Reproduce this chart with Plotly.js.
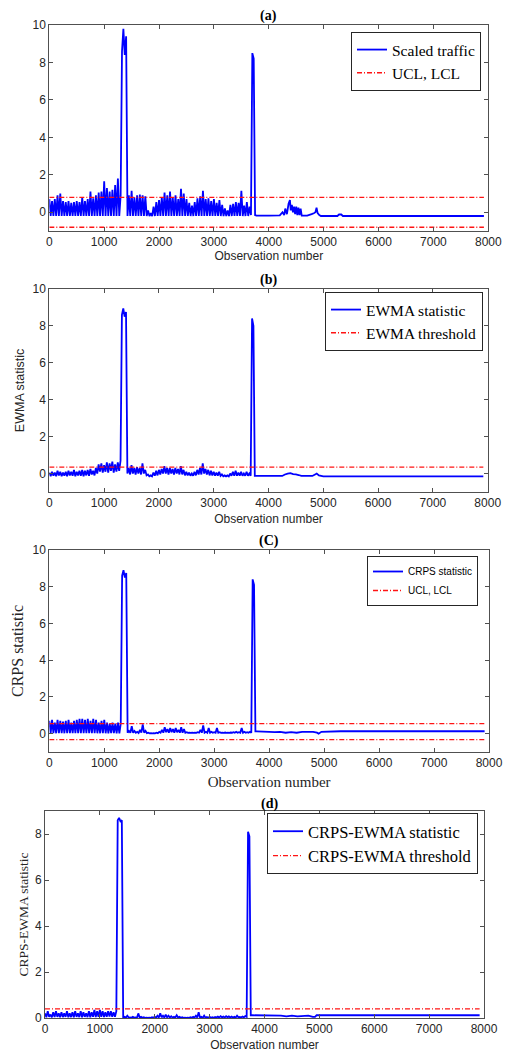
<!DOCTYPE html>
<html>
<head>
<meta charset="utf-8">
<script src="https://cdn.plot.ly/plotly-3.0.1.min.js"></script>
<style>html,body{margin:0;padding:0;background:#fff;}#chart{width:508px;height:1055px;}</style>
</head>
<body>
<div id="chart"></div>
<script>
// ---- Data (observation grid: 25 obs per entry, 0..3750) ----
// High values at obs 0,50,...,3750 ; low values at obs 25,75,...,3725
const aHigh = [0.7,0.6,0.7,0.9,1.0,0.6,0.55,0.6,0.5,0.55,
  0.6,0.55,0.8,0.6,0.7,1.1,0.75,0.9,1.05,1.1,
  1.65,1.3,1.1,1.2,1.45,1.8,0.9,9.8,9.4,0.9,
  1.15,0.8,0.9,0.95,0.9,0.85,0.1,-0.05,0.3,0.55,
  0.65,0.8,1.05,0.9,1.1,0.8,0.9,0.7,1.25,1.0,
  0.7,0.5,0.35,0.55,0.75,0.85,1.15,0.7,0.75,0.6,
  0.7,0.5,0.65,0.4,0.2,0.1,0.4,0.45,0.55,0.5,
  1.15,0.35,0.55,0.3,8.5,-0.15];
const aLow = [-0.2,-0.2,-0.2,-0.2,-0.2,-0.2,-0.2,-0.2,-0.2,-0.2,
  -0.2,-0.2,-0.2,-0.2,-0.2,-0.2,-0.2,-0.2,-0.2,-0.2,
  -0.2,-0.2,-0.2,-0.2,-0.2,-0.2,8.6,8.4,-0.2,-0.2,
  -0.2,-0.2,-0.2,-0.2,-0.2,-0.2,-0.2,-0.2,-0.2,-0.2,
  -0.2,-0.2,-0.2,-0.2,-0.2,-0.2,-0.2,-0.2,-0.2,-0.2,
  -0.2,-0.2,-0.2,-0.2,-0.2,-0.2,-0.2,-0.2,-0.2,-0.2,
  -0.2,-0.2,-0.2,-0.2,-0.2,-0.2,-0.2,-0.2,-0.2,-0.2,
  -0.2,-0.2,-0.2,-0.15,8.2];
const aTailX = [3775,4000,4200,4250,4280,4300,4330,4360,4385,4400,4420,4440,4460,4480,4500,4520,4540,4560,4580,4600,4700,4780,4820,4850,4870,4890,4920,4950,5250,5280,5320,5350,7920];
const aTailY = [-0.18,-0.18,-0.17,0.0,-0.15,0.2,-0.1,0.45,0.65,0.1,0.4,0.0,0.3,-0.1,0.3,-0.15,0.25,-0.15,0.2,-0.18,-0.18,-0.1,-0.05,0.0,0.25,-0.05,-0.15,-0.2,-0.2,-0.12,-0.12,-0.2,-0.2];

const bHigh = [0.05,0.1,0.05,0.15,0.1,0.05,0.1,0.15,0.1,0.2,
  0.1,0.15,0.2,0.15,0.2,0.25,0.15,0.3,0.5,0.55,
  0.45,0.6,0.55,0.65,0.5,0.6,0.7,8.95,8.75,0.3,
  0.45,0.3,0.35,0.3,0.55,0.2,-0.05,-0.1,0.05,0.15,
  0.2,0.25,0.4,0.3,0.3,0.25,0.3,0.25,0.4,0.2,
  0.1,0.05,0.0,0.1,0.2,0.3,0.55,0.25,0.2,0.15,
  0.1,0.05,0.1,-0.05,-0.1,-0.1,0.0,0.1,0.15,0.05,
  0.1,0.0,0.1,0.0,8.4,-0.13];
const bLow = [-0.15,-0.12,-0.15,-0.1,-0.15,-0.12,-0.15,-0.1,-0.12,-0.15,
  -0.1,-0.12,-0.15,-0.1,-0.12,-0.05,-0.1,0.0,0.1,0.05,
  0.1,0.05,0.15,0.05,0.1,0.15,8.6,8.5,0.0,-0.05,
  0.0,-0.05,0.0,-0.05,0.0,-0.1,-0.15,-0.15,-0.12,-0.1,
  -0.05,0.0,0.0,-0.05,0.0,-0.05,0.0,-0.05,-0.05,-0.1,
  -0.1,-0.12,-0.12,-0.1,-0.05,-0.05,0.0,-0.05,-0.1,-0.1,
  -0.12,-0.12,-0.12,-0.15,-0.15,-0.15,-0.12,-0.12,-0.12,-0.12,
  -0.12,-0.12,-0.12,-0.12,8.0];
const bTailX = [3775,4250,4300,4350,4400,4450,4500,4550,4600,4800,4850,4880,4920,5000,7920];
const bTailY = [-0.13,-0.13,-0.05,0.0,0.02,-0.03,-0.05,-0.08,-0.13,-0.13,-0.05,0.0,-0.1,-0.15,-0.15];

const cHigh = [0.7,0.75,0.6,0.75,0.7,0.65,0.7,0.75,0.6,0.7,
  0.75,0.8,0.8,0.75,0.8,0.7,0.8,0.75,0.6,0.7,
  0.75,0.6,0.55,0.6,0.55,0.6,0.55,8.9,8.75,0.15,
  0.4,0.15,0.1,0.2,0.5,0.15,0.05,0.03,0.03,0.05,
  0.1,0.2,0.35,0.25,0.3,0.25,0.3,0.2,0.35,0.25,
  0.08,0.05,0.05,0.05,0.08,0.2,0.45,0.1,0.3,0.1,
  0.08,0.3,0.08,0.05,0.06,0.05,0.06,0.08,0.1,0.08,
  0.3,0.1,0.08,0.1,8.4,0.12];
const cLow = [0.02,0.03,0.02,0.02,0.03,0.02,0.02,0.03,0.03,0.02,
  0.02,0.03,0.03,0.02,0.02,0.03,0.03,0.02,0.02,0.03,
  0.02,0.02,0.03,0.03,0.02,0.02,8.6,8.5,0.05,0.05,
  0.05,0.05,0.03,0.05,0.05,0.03,0.02,0.02,0.02,0.02,
  0.05,0.05,0.08,0.05,0.08,0.05,0.08,0.05,0.05,0.05,
  0.04,0.04,0.04,0.04,0.05,0.05,0.05,0.05,0.05,0.05,
  0.05,0.05,0.04,0.04,0.04,0.04,0.05,0.05,0.05,0.05,
  0.05,0.05,0.05,0.05,8.1];
const cTailX = [3775,4000,4100,4200,4300,4400,4500,4600,4800,4870,4900,4950,5300,7920];
const cTailY = [0.12,0.1,0.08,0.1,0.05,0.08,0.05,0.1,0.1,0.05,0.0,0.1,0.13,0.13];

const dHigh = [0.2,0.3,0.15,0.25,0.3,0.2,0.25,0.2,0.3,0.2,
  0.25,0.3,0.2,0.3,0.25,0.2,0.3,0.25,0.35,0.3,
  0.35,0.3,0.25,0.3,0.3,0.25,0.3,8.7,8.6,0.05,
  0.1,0.03,0.05,0.03,0.2,0.05,0.03,0.02,0.02,0.03,
  0.05,0.1,0.2,0.1,0.15,0.1,0.08,0.05,0.12,0.05,
  0.03,0.02,0.02,0.03,0.05,0.1,0.25,0.05,0.1,0.04,
  0.05,0.03,0.04,0.06,0.08,0.06,0.08,0.07,0.06,0.05,
  0.1,0.05,0.06,0.08,8.1,0.12];
const dLow = [0.03,0.05,0.03,0.04,0.05,0.03,0.04,0.05,0.03,0.04,
  0.03,0.05,0.04,0.03,0.05,0.04,0.03,0.05,0.04,0.05,
  0.05,0.04,0.05,0.06,0.05,0.05,8.6,8.55,0.02,0.02,
  0.02,0.01,0.02,0.01,0.02,0.01,0.01,0.01,0.01,0.01,
  0.02,0.02,0.03,0.02,0.03,0.02,0.02,0.02,0.02,0.01,
  0.01,0.01,0.01,0.01,0.02,0.02,0.02,0.01,0.01,0.01,
  0.01,0.01,0.02,0.02,0.03,0.02,0.03,0.02,0.02,0.02,
  0.03,0.02,0.03,0.05,7.9];
const dTailX = [3775,4300,4400,4500,4600,4800,4880,4920,4950,7920];
const dTailY = [0.12,0.1,0.07,0.1,0.07,0.1,0.05,0.05,0.12,0.12];

// Control limits / thresholds
const limitXEnd = 7920;
const aUCL = 0.8, aLCL = -0.8;
const bThreshold = 0.35;
const cUCL = 0.55, cLCL = -0.33;
const dThreshold = 0.4;

const panelTitles = ['(a)', '(b)', '(C)', '(d)'];
const xTickVals = [0,1000,2000,3000,4000,5000,6000,7000,8000];

// ---- Build series ----
const GRID = 25;
function build(high, low, tx, ty) {
  const x = [], y = [];
  const n = high.length + low.length;
  for (let i = 0; i < n; i++) {
    x.push(i * GRID);
    y.push(i % 2 === 0 ? high[i / 2] : low[(i - 1) / 2]);
  }
  return {x: x.concat(tx), y: y.concat(ty)};
}
const A = build(aHigh, aLow, aTailX, aTailY);
const B = build(bHigh, bLow, bTailX, bTailY);
const C = build(cHigh, cLow, cTailX, cTailY);
const D = build(dHigh, dLow, dTailX, dTailY);

const SERIF = 'Liberation Serif, Times New Roman, serif';
const SANS = 'Liberation Sans, Arial, Helvetica, sans-serif';
const blue = 'rgb(0,0,255)';
const red = 'rgb(255,20,20)';

function series(d, name, xa, ya, leg) {
  return {x: d.x, y: d.y, type: 'scatter', mode: 'lines', name: name,
    xaxis: xa, yaxis: ya, legend: leg, line: {color: blue, width: 1.8, simplify: false}};
}
function limits(vals, name, xa, ya, leg) {
  const x = [], y = [];
  vals.forEach((v, i) => { if (i) { x.push(null); y.push(null); } x.push(0, limitXEnd); y.push(v, v); });
  return {x: x, y: y, type: 'scatter', mode: 'lines', name: name, connectgaps: false,
    xaxis: xa, yaxis: ya, legend: leg, line: {color: red, width: 1.3, dash: '5px,2px,1px,2px', simplify: false}};
}

const traces = [
  series(A, 'Scaled traffic', 'x', 'y', 'legend'),
  limits([aUCL, aLCL], 'UCL, LCL', 'x', 'y', 'legend'),
  series(B, 'EWMA statistic', 'x2', 'y2', 'legend2'),
  limits([bThreshold], 'EWMA threshold', 'x2', 'y2', 'legend2'),
  series(C, 'CRPS statistic', 'x3', 'y3', 'legend3'),
  limits([cUCL, cLCL], 'UCL, LCL', 'x3', 'y3', 'legend3'),
  series(D, 'CRPS-EWMA statistic', 'x4', 'y4', 'legend4'),
  limits([dThreshold], 'CRPS-EWMA threshold', 'x4', 'y4', 'legend4')
];

const W = 508, H = 1055;
const px = v => v / W, py = v => 1 - v / H;
const axisCommon = {showline: true, linecolor: '#505050', linewidth: 1, mirror: 'ticks',
  ticks: 'inside', ticklen: 4, tickcolor: '#505050', showgrid: false, zeroline: false,
  tickfont: {family: SANS, size: 12, color: '#262626'}, automargin: false, fixedrange: true};

function xaxis(dom, anchor, titleFont, standoff) {
  return Object.assign({}, axisCommon, {domain: dom, anchor: anchor, range: [0, 8000],
    tickvals: xTickVals, ticktext: xTickVals.map(String),
    title: {text: 'Observation number', font: titleFont, standoff: standoff}});
}
function yaxis(dom, anchor, range, tv, title, titleFont, standoff) {
  const o = Object.assign({}, axisCommon, {domain: dom, anchor: anchor, range: range,
    tickvals: tv, ticktext: tv.map(String)});
  if (title) o.title = {text: title, font: titleFont, standoff: standoff};
  return o;
}
const sans12 = {family: SANS, size: 12, color: '#262626'};

const legendCommon = {bgcolor: '#fff', bordercolor: '#262626', borderwidth: 1,
  xanchor: 'right', yanchor: 'top', tracegroupgap: 0};

const layout = {
  width: W, height: H, margin: {l: 0, r: 0, t: 0, b: 0}, paper_bgcolor: '#fff', plot_bgcolor: '#fff',
  showlegend: true,
  xaxis: xaxis([px(49.3), px(488.3)], 'y', sans12, 0),
  yaxis: yaxis([py(231), py(25)], 'x', [-1, 10], [0,2,4,6,8,10], null),
  xaxis2: xaxis([px(49.3), px(487.7)], 'y2', sans12, 5),
  yaxis2: yaxis([py(492), py(289)], 'x2', [-1, 10], [0,2,4,6,8,10], 'EWMA statistic', {family: SANS, size: 12.5, color: '#262626'}, 5),
  xaxis3: xaxis([px(49.3), px(489)], 'y3', {family: SERIF, size: 15, color: '#262626'}, 7),
  yaxis3: yaxis([py(752), py(550)], 'x3', [-1, 10], [0,2,4,6,8,10], 'CRPS statistic', {family: SERIF, size: 16, color: '#262626'}, 4),
  xaxis4: xaxis([px(45), px(484)], 'y4', sans12, 5),
  yaxis4: yaxis([py(1018), py(811)], 'x4', [0, 9], [0,2,4,6,8], 'CRPS-EWMA statistic', {family: SERIF, size: 13.5, color: '#262626'}, 3),
  legend: Object.assign({}, legendCommon, {x: px(481), y: py(32), font: {family: SERIF, size: 15.5, color: '#000'}}),
  legend2: Object.assign({}, legendCommon, {x: px(483), y: py(292), font: {family: SERIF, size: 15.5, color: '#000'}}),
  legend3: Object.assign({}, legendCommon, {x: px(478), y: py(556), font: {family: SANS, size: 10, color: '#000'}}),
  legend4: Object.assign({}, legendCommon, {x: px(478), y: py(813), font: {family: SERIF, size: 16.5, color: '#000'}}),
  annotations: [
    {text: '<b>' + panelTitles[0] + '</b>', x: px(268.8), y: py(16)},
    {text: '<b>' + panelTitles[1] + '</b>', x: px(268.5), y: py(280)},
    {text: '<b>' + panelTitles[2] + '</b>', x: px(269), y: py(541)},
    {text: '<b>' + panelTitles[3] + '</b>', x: px(269), y: py(804)}
  ].map(a => Object.assign(a, {xref: 'paper', yref: 'paper', showarrow: false,
    xanchor: 'center', yanchor: 'middle', font: {family: SERIF, size: 14, color: '#000'}}))
};

Plotly.newPlot('chart', traces, layout, {staticPlot: true, displayModeBar: false});
</script>
</body>
</html>
